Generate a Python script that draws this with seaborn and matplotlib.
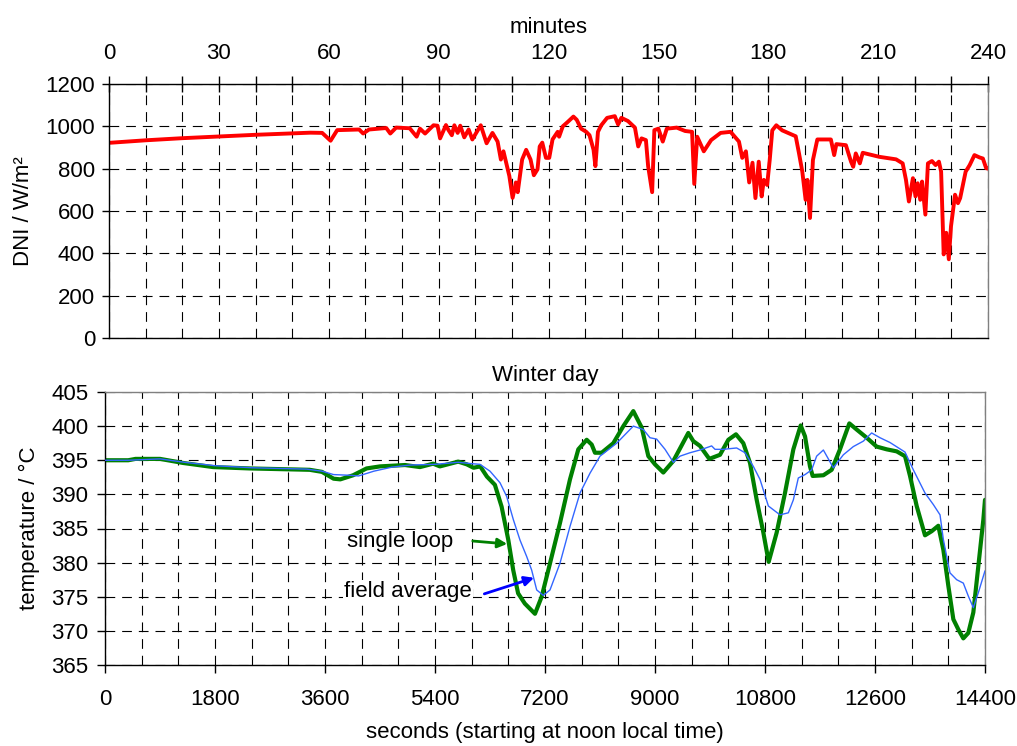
"""
DNI and loop outlet temperature on a winter day (two stacked panels).
"""
import matplotlib
matplotlib.use("Agg")
import matplotlib.pyplot as plt
from matplotlib.ticker import MultipleLocator
import pandas as pd
import seaborn as sns

# ---------- data ----------
DNI_MIN = [0, 10, 20, 30, 40, 50, 55, 58.2, 60.5, 62.3, 68.3, 69.4, 71, 75.7, 76.8, 78.4,
           82.1, 84, 84.9, 86.3, 88.6, 89.7, 90.4, 92, 92.7, 93.6, 94.3, 95.2, 95.9, 97,
           98.2, 99.2, 101.5, 103.1, 104.7, 106.1, 107, 107.7, 109.3, 110.2, 111.1, 111.6,
           112.8, 113.9, 115.1, 116, 117, 117.6, 118.3, 119.3, 120.2, 121.1, 122.5, 122.9,
           123.9, 125.2, 126.8, 127.7, 128.9, 130.3, 131.2, 132.3, 132.8, 133.5, 134.4, 136,
           138.1, 139, 139.9, 141.7, 143.6, 144.5, 145.4, 146.6, 147.2, 148.3, 148.9, 150,
           151.2, 152.3, 155, 157.3, 159.2, 159.8, 160.6, 162.4, 164.4, 167, 169.7, 172,
           172.9, 173.9, 174.8, 175.7, 176.5, 177.4, 178.2, 178.8, 179.7, 180.4, 181.1, 182.2,
           183.8, 187.5, 188.4, 189.3, 190.2, 190.7, 191.4, 192.2, 193.4, 197.1, 198, 198.6,
           201.2, 202.6, 203.2, 203.9, 205, 205.8, 210.3, 214.9, 216.7, 217.6, 218.4, 219.5,
           220.2, 220.8, 221.5, 222, 222.9, 223.6, 224.7, 225.7, 226.6, 227.2, 227.9, 228.6,
           229.3, 229.9, 231, 231.8, 232.4, 233.9, 235, 236.3, 237.7, 238.6, 239.5, 240]
DNI_VAL = [922, 934, 944, 952, 960, 967, 970, 969, 932, 982, 985, 966, 985, 992, 966, 994,
           991, 951, 989, 966, 1005, 1003, 943, 1006, 982, 958, 1005, 969, 1003, 948,
           985, 938, 1005, 920, 969, 928, 843, 882, 766, 662, 735, 689,
           843, 889, 843, 769, 797, 905, 923, 851, 851, 938, 974, 951,
           1000, 1020, 1046, 1031, 989, 974, 958, 889, 812, 974, 1005, 1040,
           1048, 1009, 1040, 1025, 994, 905, 943, 935, 812, 689, 982, 989,
           928, 989, 994, 978, 974, 728, 951, 882, 935, 969, 974, 928,
           851, 882, 735, 828, 661, 833, 669, 747, 723, 841, 981, 1005,
           981, 953, 872, 786, 653, 747, 567, 841, 938, 938, 864, 916,
           911, 833, 809, 872, 825, 875, 856, 844, 825, 747, 645, 755,
           669, 731, 653, 739, 583, 825, 836, 817, 833, 786, 395, 497,
           372, 528, 677, 637, 661, 786, 817, 864, 853, 848, 802, 800]

LOOP_SEC = [0, 380, 500, 900, 1280, 1770, 2370, 3350, 3550, 3740, 3850, 4060, 4280, 4500,
            4910, 5155, 5370, 5480, 5780, 5920, 6030, 6140, 6250, 6380, 6490, 6600, 6680,
            6760, 6870, 7036, 7145, 7282, 7445, 7609, 7745, 7882, 7964, 8018, 8127, 8318,
            8482, 8645, 8782, 8891, 9000, 9136, 9300, 9545, 9627, 9736, 9889, 10064, 10200,
            10325, 10445, 10555, 10664, 10773, 10860, 10991, 11127, 11264, 11384, 11455,
            11536, 11580, 11755, 11891, 12027, 12180, 12300, 12464, 12627, 12791, 12955,
            13091, 13173, 13282, 13418, 13527, 13636, 13718, 13800, 13882, 13964, 14045,
            14127, 14209, 14291, 14373, 14400]
LOOP_T = [395, 395, 395.2, 395.2, 394.6, 394.0, 393.8, 393.6, 393.3, 392.3, 392.2, 392.8,
          393.8, 394.1, 394.3, 394.0, 394.5, 394.1, 394.8, 394.4, 393.9, 394.1, 392.6, 391.4,
          388.2, 383.3, 378.9, 375.5, 374, 372.5, 375, 379.9, 385.8, 392.2, 396.6, 398,
          397.3, 396.1, 396.1, 397.5, 400, 402.2, 399.8, 395.6, 394.4, 393.2, 394.9, 399,
          397.8, 397.1, 395.2, 395.8, 398, 398.8, 397.5, 394.6, 389.2, 384.4, 380.1, 384.4,
          390.2, 396.6, 400.1, 398.5, 394.1, 392.7, 392.8, 393.6, 396.6, 400.4, 399.5,
          398.3, 397, 396.6, 396.3, 395.6, 392.7, 388.3, 384, 384.6, 385.4, 381.9, 376.6,
          371.7, 370.2, 368.9, 369.7, 372.7, 379.5, 386.3, 389.2]

FIELD_SEC = [0, 380, 900, 1300, 1800, 2400, 3300, 3550, 3740, 4000, 4150, 4400, 4700, 5000,
             5400, 5780, 6000, 6136, 6300, 6464, 6573, 6682, 6791, 6900, 6982, 7064, 7173,
             7282, 7445, 7609, 7773, 7936, 8100, 8373, 8645, 8809, 8918, 9027, 9164, 9300,
             9409, 9573, 9736, 9927, 9982, 10118, 10336, 10473, 10609, 10718, 10855, 11045,
             11182, 11264, 11345, 11455, 11564, 11645, 11755, 11918, 12082, 12245, 12409,
             12545, 12682, 12845, 13091, 13227, 13418, 13555, 13664, 13718, 13827, 13936,
             14045, 14127, 14209, 14291, 14400]
FIELD_T = [395, 395, 395.2, 394.7, 394.2, 393.9, 393.7, 393.4, 392.9, 392.8, 392.7, 393.4,
           394, 394.3, 394.4, 394.7, 394.5, 394.4, 393.4, 391.7, 389.7, 386.3, 383.3, 380.9,
           378.9, 376, 375.2, 376, 379.9, 385.3, 390.2, 393.1, 395.6, 397.5, 400, 399.5,
           398.3, 398.1, 396.6, 394.7, 395.6, 396.1, 396.5, 397.1, 396.6, 396.6, 396.8,
           396.1, 394.1, 392.2, 388.3, 387, 387.3, 389.2, 392.4, 392.9, 393.6, 395.6, 396.5,
           393.9, 395.8, 397, 397.8, 399, 398.3, 397.6, 396.2, 393.6, 390.2, 388.5, 387,
           383.4, 378.5, 377.5, 377, 375.1, 373.4, 375.6, 378.8]

# ---------- style ----------
sns.set_style("white", rc={"text.color": "black", "axes.labelcolor": "black",
                           "xtick.color": "black", "ytick.color": "black"})
plt.rcParams["font.family"] = ["Liberation Sans", "DejaVu Sans"]
plt.rcParams["font.size"] = 16
plt.rcParams["lines.scale_dashes"] = False
FS = 16
GRID = dict(color="black", linestyle=(0, (7, 5)), linewidth=0.8)

fig = plt.figure(figsize=(10.17, 7.46), dpi=100)
ax1 = fig.add_axes([109 / 1017, 1 - 338 / 746, 879 / 1017, 254 / 746])
ax2 = fig.add_axes([105 / 1017, 1 - 665 / 746, 880 / 1017, 273 / 746])

# ---------- top: DNI ----------
dni = pd.DataFrame({"minutes": DNI_MIN, "dni": DNI_VAL})
sns.lineplot(data=dni, x="minutes", y="dni", ax=ax1, color="#ff0000", lw=2.8,
             estimator=None, sort=False)
ax1.set_xlim(0, 240)
ax1.set_ylim(0, 1200)
ax1.xaxis.tick_top()
ax1.xaxis.set_label_position("top")
ax1.xaxis.set_major_locator(MultipleLocator(30))
ax1.xaxis.set_minor_locator(MultipleLocator(10))
ax1.yaxis.set_major_locator(MultipleLocator(200))
ax1.tick_params(axis="x", which="both", direction="inout", length=11, width=1,
                top=True, bottom=False, labelsize=FS, pad=9)
ax1.tick_params(axis="y", direction="out", length=5, width=1, left=True, labelsize=FS, pad=5)
ax1.set_xlabel("minutes", fontsize=FS, labelpad=7)
ax1.set_ylabel("DNI / W/m²", fontsize=FS, labelpad=8)
ax1.grid(axis="x", which="both", **GRID)
ax1.grid(axis="y", which="major", **GRID)

# ---------- bottom: temperatures ----------
loop = pd.DataFrame({"sec": LOOP_SEC, "T": LOOP_T})
field = pd.DataFrame({"sec": FIELD_SEC, "T": FIELD_T})
sns.lineplot(data=field, x="sec", y="T", ax=ax2, color="#3366ff", lw=1.0,
             estimator=None, sort=False, zorder=3)
sns.lineplot(data=loop, x="sec", y="T", ax=ax2, color="#008000", lw=3.0,
             estimator=None, sort=False, zorder=2)
ax2.set_xlim(0, 14400)
ax2.set_ylim(365, 405)
ax2.xaxis.set_major_locator(MultipleLocator(1800))
ax2.xaxis.set_minor_locator(MultipleLocator(600))
ax2.yaxis.set_major_locator(MultipleLocator(5))
ax2.tick_params(axis="x", which="major", direction="out", length=6, width=1,
                bottom=True, labelsize=FS, pad=11)
ax2.tick_params(axis="x", which="minor", length=0)
ax2.tick_params(axis="y", direction="out", length=6, width=1, left=True, labelsize=FS, pad=6)
ax2.set_xlabel("seconds (starting at noon local time)", fontsize=FS, labelpad=9)
ax2.set_ylabel("temperature / °C", fontsize=FS, labelpad=8)
ax2.set_title("Winter day", fontsize=FS, pad=8)
ax2.grid(axis="x", which="both", **GRID)
ax2.grid(axis="y", which="major", **GRID)

box = dict(facecolor="white", edgecolor="none", pad=1)
ax2.text(5694, 383.1, "single loop", ha="right", va="center", fontsize=FS, bbox=box, zorder=4)
ax2.annotate("", xy=(6627, 382.7), xytext=(5973, 383.2),
             arrowprops=dict(arrowstyle="-|>", color="#008000", lw=2, mutation_scale=14))
ax2.text(6005, 375.7, "field average", ha="right", va="center", fontsize=FS, bbox=box, zorder=4)
ax2.annotate("", xy=(7064, 377.9), xytext=(6164, 375.3),
             arrowprops=dict(arrowstyle="-|>", color="#0000ff", lw=2, mutation_scale=14))

# spines: grey on the far sides like the original
for ax in (ax1, ax2):
    for side in ("left", "top", "right", "bottom"):
        ax.spines[side].set_color("black")
        ax.spines[side].set_linewidth(1)
    ax.spines["right"].set_color("#808080")
ax2.spines["top"].set_color("#808080")

fig.savefig("out.png", dpi=100)
